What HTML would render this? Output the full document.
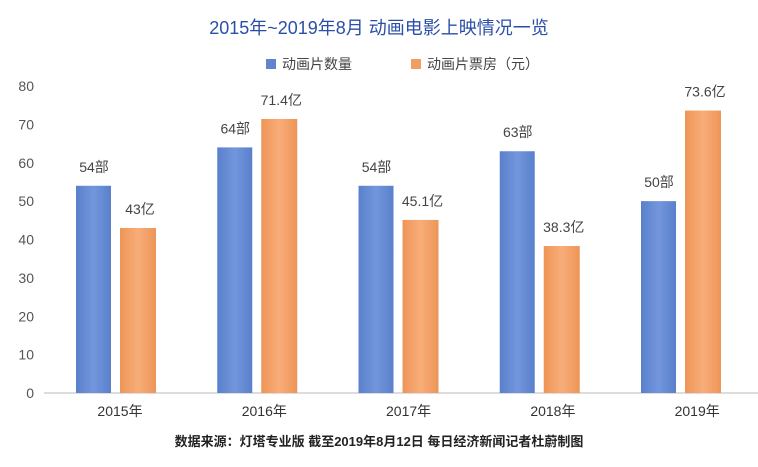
<!DOCTYPE html>
<html><head><meta charset="utf-8"><style>
body{margin:0;background:#fff;}
svg text{font-family:"Liberation Sans","Noto Sans CJK SC",sans-serif;}
</style></head><body>
<svg id="c" width="758" height="462" xmlns="http://www.w3.org/2000/svg">
<defs>
<linearGradient id="gb" x1="0" x2="1"><stop offset="0" stop-color="#5a80cc"/><stop offset="0.5" stop-color="#7396dc"/><stop offset="1" stop-color="#5a80cc"/></linearGradient>
<linearGradient id="go" x1="0" x2="1"><stop offset="0" stop-color="#ee9558"/><stop offset="0.5" stop-color="#f8ad78"/><stop offset="1" stop-color="#ee9558"/></linearGradient>
</defs>
<text x="379" y="34" text-anchor="middle" font-size="18" fill="#2a4fa8">2015年~2019年8月 动画电影上映情况一览</text>
<rect x="266" y="59" width="10" height="10" fill="#5f84d0"/>
<text x="282" y="69" font-size="14" fill="#444">动画片数量</text>
<rect x="411" y="59" width="10" height="10" fill="#f29d62"/>
<text x="427" y="69" font-size="14" fill="#444">动画片票房（元）</text>
<line x1="44" y1="393" x2="767" y2="393" stroke="#bbb" stroke-width="1"/>
<g id="g"></g>
<text x="379" y="446" text-anchor="middle" font-size="13" font-weight="bold" fill="#222">数据来源：灯塔专业版 截至2019年8月12日 每日经济新闻记者杜蔚制图</text>
</svg>
<script>
const categories=["2015年","2016年","2017年","2018年","2019年"];
const counts=[54,64,54,63,50];
const countLabels=["54部","64部","54部","63部","50部"];
const boxOffice=[43,71.4,45.1,38.3,73.6];
const boxLabels=["43亿","71.4亿","45.1亿","38.3亿","73.6亿"];
const yTicks=[0,10,20,30,40,50,60,70,80];
const ns="http://www.w3.org/2000/svg",g=document.getElementById("g");
const y=v=>393-v*3.8375, cx=i=>116+141.25*i, lx=i=>120+144.3*i;
function mk(t,a){const e=document.createElementNS(ns,t);for(const k in a)e.setAttribute(k,a[k]);g.appendChild(e);return e;}
yTicks.forEach(v=>{const t=mk("text",{x:34,y:y(v)+5,"text-anchor":"end","font-size":"14",fill:"#555"});t.textContent=v;

});
categories.forEach((c,i)=>{
const t=mk("text",{x:lx(i),y:416,"text-anchor":"middle","font-size":"14",fill:"#333"});t.textContent=c;


const b=mk("rect",{x:cx(i)-40,y:y(counts[i]),width:35,height:393-y(counts[i]),fill:"url(#gb)"});


const o=mk("rect",{x:cx(i)+4,y:y(boxOffice[i]),width:36,height:393-y(boxOffice[i]),fill:"url(#go)"});


const l1=mk("text",{x:cx(i)-22,y:y(counts[i])-14,"text-anchor":"middle","font-size":"14",fill:"#444"});l1.textContent=countLabels[i];


const l2=mk("text",{x:cx(i)+24,y:y(boxOffice[i])-14,"text-anchor":"middle","font-size":"14",fill:"#444"});l2.textContent=boxLabels[i];


});
</script>
</body></html>
